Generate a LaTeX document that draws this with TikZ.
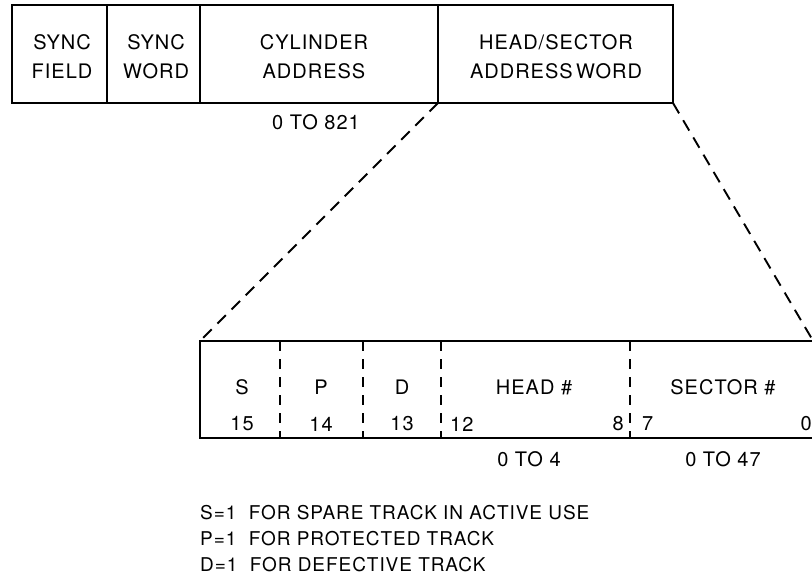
\documentclass[tikz,border=0pt]{standalone}
\usepackage{fontspec}
\setmainfont{TeX Gyre Heros}[LetterSpace=5]
\begin{document}
\begin{tikzpicture}[x=1pt,y=-1pt,
  lbl/.style={font=\fontsize{20}{29}\selectfont, align=center, inner sep=0pt},
  legend/.style={font=\fontsize{19}{24}\selectfont, anchor=west, inner sep=0pt},
  line/.style={line width=2.2pt},
  divider/.style={line width=1.9pt, dash pattern=on 10pt off 8pt},
  zoomline/.style={line width=1.9pt, dash pattern=on 12pt off 8pt}]
\useasboundingbox (0,0) rectangle (812,578);
% top record
\coordinate (tl) at (12,5);
\coordinate (br) at (673,103);
\draw[line] (tl) rectangle (br);
\draw[line] (107,5) -- (107,103);
\draw[line] (200,5) -- (200,103);
\draw[line] (438,5) -- (438,103);
\coordinate (hsl) at (438,103);
\coordinate (hsr) at (673,103);
\node[lbl] (sf) at (62,57) {SYNC\\FIELD};
\node[lbl] (sw) at (156,57) {SYNC\\WORD};
\node[lbl] (ca) at (314,57) {CYLINDER\\ADDRESS};
\node[lbl] (hs) at (556,57) {HEAD/SECTOR\\ADDRESS\,WORD};
\node[lbl] (cr) at (316,122) {0 TO 821};
% expanded word
\coordinate (bl) at (200,341);
\coordinate (brt) at (812,339);
\draw[line] (812,341) -- (200,341) -- (200,438) -- (812,438);
\foreach \x in {280,363,441,630} \draw[divider] (\x,341) -- (\x,438);
\draw[zoomline] (hsl) -- (bl);
\draw[zoomline] (hsr) -- (brt);
\node[lbl] (s) at (242,387) {S};
\node[lbl] (p) at (321,387) {P};
\node[lbl] (d) at (402,387) {D};
\node[lbl] (hd) at (534,387) {HEAD \#};
\node[lbl] (sc) at (723,387) {SECTOR \#};
\node[lbl] (b15) at (242,424) {15};
\node[lbl] (b14) at (321,424) {14};
\node[lbl] (b13) at (402,424) {13};
\node[lbl,anchor=west] (b12) at (450,424) {12};
\node[lbl,anchor=east] (b8) at (624,424) {8};
\node[lbl,anchor=west] (b7) at (642,424) {7};
\node[lbl,anchor=east] (b0) at (812,424) {0};
\node[lbl] (hr) at (529,459) {0 TO 4};
\node[lbl] (sr) at (723,459) {0 TO 47};
% legend
\node[legend] (l1) at (200,513) {S=1\ \ FOR SPARE TRACK IN ACTIVE USE};
\node[legend] (l2) at (200,539) {P=1\ \ FOR PROTECTED TRACK};
\node[legend] (l3) at (200,565) {D=1\ \ FOR DEFECTIVE TRACK};
\end{tikzpicture}
\end{document}
